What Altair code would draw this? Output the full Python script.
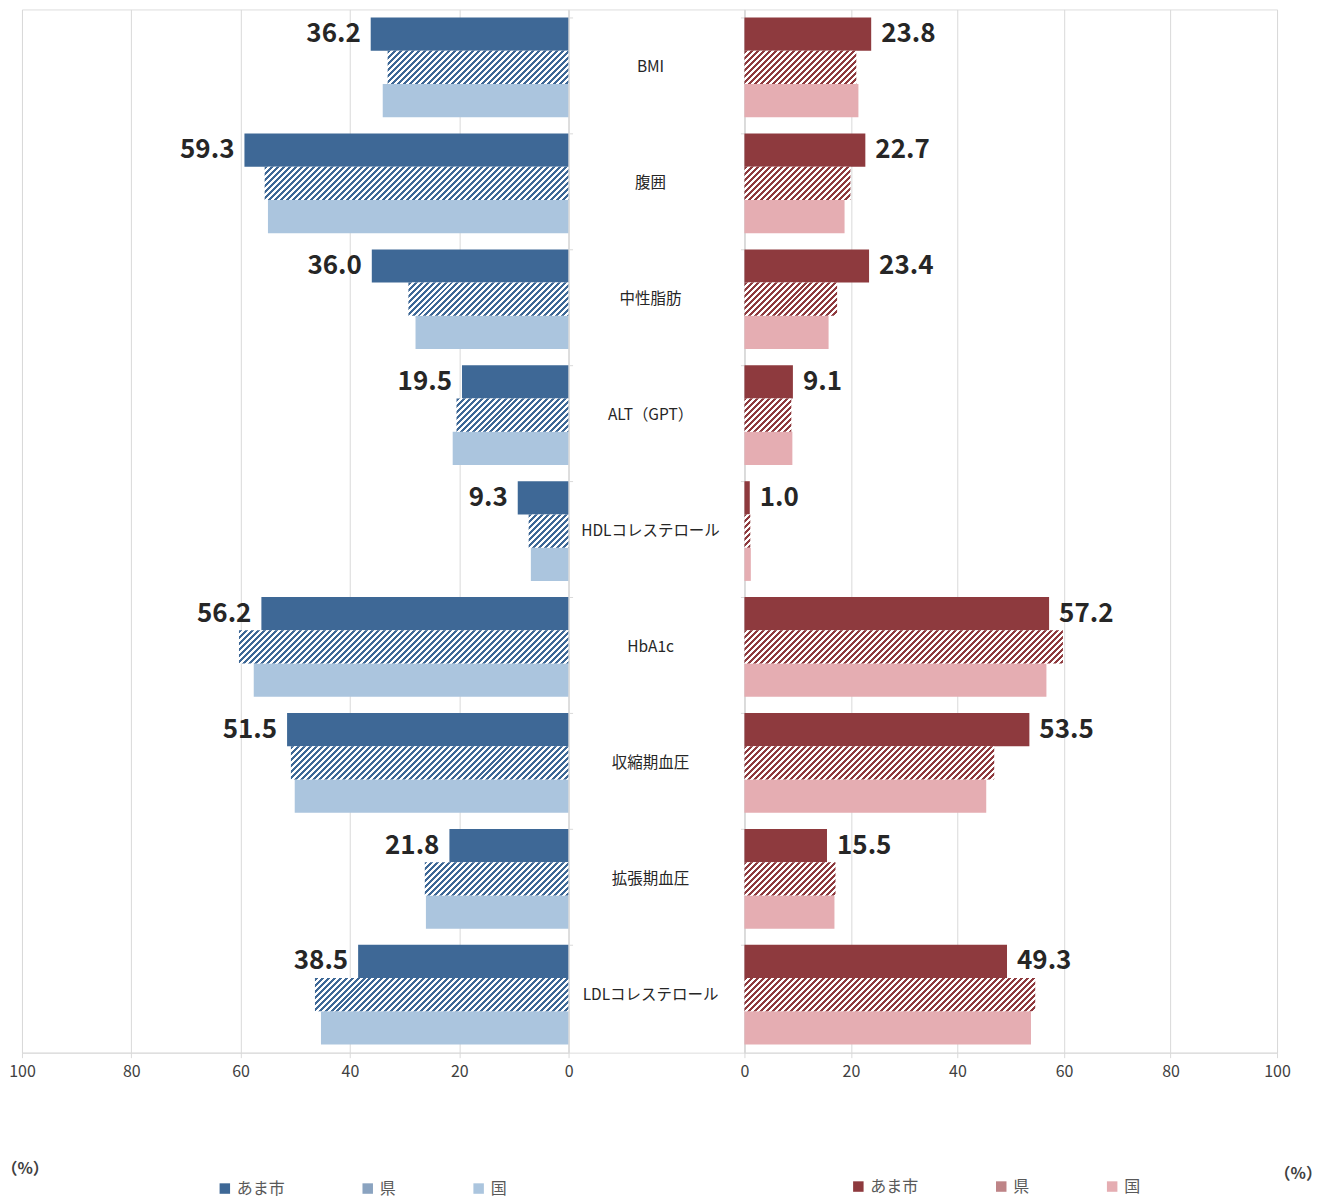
import altair as alt
import pandas as pd

CATS = ["BMI", "腹囲", "中性脂肪", "ALT（GPT）", "HDLコレステロール", "HbA1c",
        "収縮期血圧", "拡張期血圧", "LDLコレステロール"]
SERIES = ["あま市", "県", "国"]

L_CITY = [36.2, 59.3, 36.0, 19.5, 9.3, 56.2, 51.5, 21.8, 38.5]
L_PREF = [33.1, 55.6, 29.3, 20.5, 7.3, 60.3, 50.8, 26.3, 46.4]
L_NATION = [34.0, 55.0, 28.0, 21.2, 6.9, 57.6, 50.1, 26.1, 45.3]

R_CITY = [23.8, 22.7, 23.4, 9.1, 1.0, 57.2, 53.5, 15.5, 49.3]
R_PREF = [21.0, 19.9, 17.4, 8.8, 1.1, 59.8, 46.9, 17.1, 54.6]
R_NATION = [21.4, 18.8, 15.8, 9.0, 1.2, 56.7, 45.4, 16.9, 53.8]

TICKS = [0, 20, 40, 60, 80, 100]

BLUES = ["#3E6896", "#8AA3C0", "#ABC5DE"]
REDS = ["#8E3A3E", "#BE8487", "#E5ADB2"]

FONT = "Noto Sans CJK JP"
PH = 1044
STEP = PH / 9
PAD_IN = 0.14
BAR_H = STEP * (1 - PAD_IN) / 3
GRID = "#D9D9D9"


def hatch(width_px, color, period=6.0):
    W = max(width_px, 0.5)
    H = BAR_H
    s = (W + H) * W / (W * W + H * H)
    n = (W + H) / period
    stops = []
    i = 0
    while True:
        t0 = i / n
        if t0 >= 1:
            break
        tm = min((i + 0.5) / n, 1.0)
        t1 = min((i + 1) / n, 1.0)
        stops += [
            {"offset": round(t0, 6), "color": color},
            {"offset": round(tm, 6), "color": color},
            {"offset": round(tm, 6), "color": "#FFFFFF"},
            {"offset": round(t1, 6), "color": "#FFFFFF"},
        ]
        i += 1
    return {"gradient": "linear", "x1": 0, "y1": 0, "x2": s, "y2": s * H / W, "stops": stops}


def panel(city, pref, nation, colors, width, left):
    df = pd.DataFrame({
        "cat": CATS * 3,
        "series": ["あま市"] * 9 + ["県"] * 9 + ["国"] * 9,
        "value": city + pref + nation,
    })
    ppu = width / 100.0
    x = alt.X("value:Q",
              scale=alt.Scale(domain=[0, 100], reverse=left, nice=False),
              axis=alt.Axis(values=TICKS, grid=True, gridColor=GRID, domainColor=GRID,
                            tickColor=GRID, tickSize=5, labelFontSize=16, labelColor="#404040",
                            labelPadding=6, labelFont=FONT, labelFlush=False,
                            title="（%）", titleFont=FONT, titleFontSize=16, titleFontWeight="bold",
                            titleColor="#404040", titleAlign="left", titleBaseline="middle",
                            titleAnchor="start",
                            titleX=-21 if left else 530, titleY=116 if left else 121))
    y = alt.Y("cat:N", sort=CATS,
              scale=alt.Scale(paddingInner=PAD_IN, paddingOuter=PAD_IN / 2),
              axis=alt.Axis(orient="right" if left else "left", labels=False, title=None,
                            bandPosition=0, tickSize=4, tickColor=GRID, domainColor=GRID,
                            grid=False))
    yo = alt.YOffset("series:N", sort=SERIES, scale=alt.Scale(domain=SERIES))

    base = alt.Chart(df)
    solid = base.transform_filter(
        alt.FieldOneOfPredicate(field="series", oneOf=["あま市", "国"])
    ).mark_bar().encode(
        x=x, y=y, yOffset=yo,
        color=alt.Color("series:N", sort=SERIES,
                        scale=alt.Scale(domain=SERIES, range=colors),
                        legend=alt.Legend(title=None, orient="none", direction="horizontal",
                                          columns=3, columnPadding=74,
                                          legendX=195 if left else 106,
                                          legendY=1172 if left else 1170,
                                          symbolType="square", symbolSize=110,
                                          symbolStrokeWidth=0, labelFontSize=16,
                                          labelFont=FONT, labelColor="#595959",
                                          labelOffset=4)),
    )
    layers = [solid]
    for c, v in zip(CATS, pref):
        layers.append(
            base.transform_filter(
                f"datum.cat === '{c}' && datum.series === '県'"
            ).mark_bar(fill=hatch(v * ppu, colors[0])).encode(x=x, y=y, yOffset=yo)
        )
    text = base.transform_filter("datum.series === 'あま市'").mark_text(
        align="right" if left else "left", baseline="middle",
        dx=-10 if left else 10, fontSize=26, fontWeight="bold",
        font=FONT, color="#262626",
    ).encode(x=x, y=y, yOffset=yo, text=alt.Text("value:Q", format=".1f"))
    layers.append(text)
    return alt.layer(*layers).properties(width=width, height=PH)


left = panel(L_CITY, L_PREF, L_NATION, BLUES, 547, True)
right = panel(R_CITY, R_PREF, R_NATION, REDS, 533, False)

middle = alt.Chart(pd.DataFrame({"cat": CATS})).mark_text(
    fontSize=15.5, color="#262626", font=FONT
).encode(
    y=alt.Y("cat:N", sort=CATS, axis=None),
    x=alt.value(82),
    text="cat:N",
).properties(width=176, height=PH)

chart = alt.hconcat(left, middle, right, spacing=0, bounds="flush").resolve_scale(
    color="independent", x="independent", y="independent"
).properties(
    padding={"left": 0, "top": 8, "right": 0, "bottom": 0}
).configure_view(stroke=None).configure(font=FONT)

chart.save("out.html", embed_options={"renderer": "svg", "actions": False})
